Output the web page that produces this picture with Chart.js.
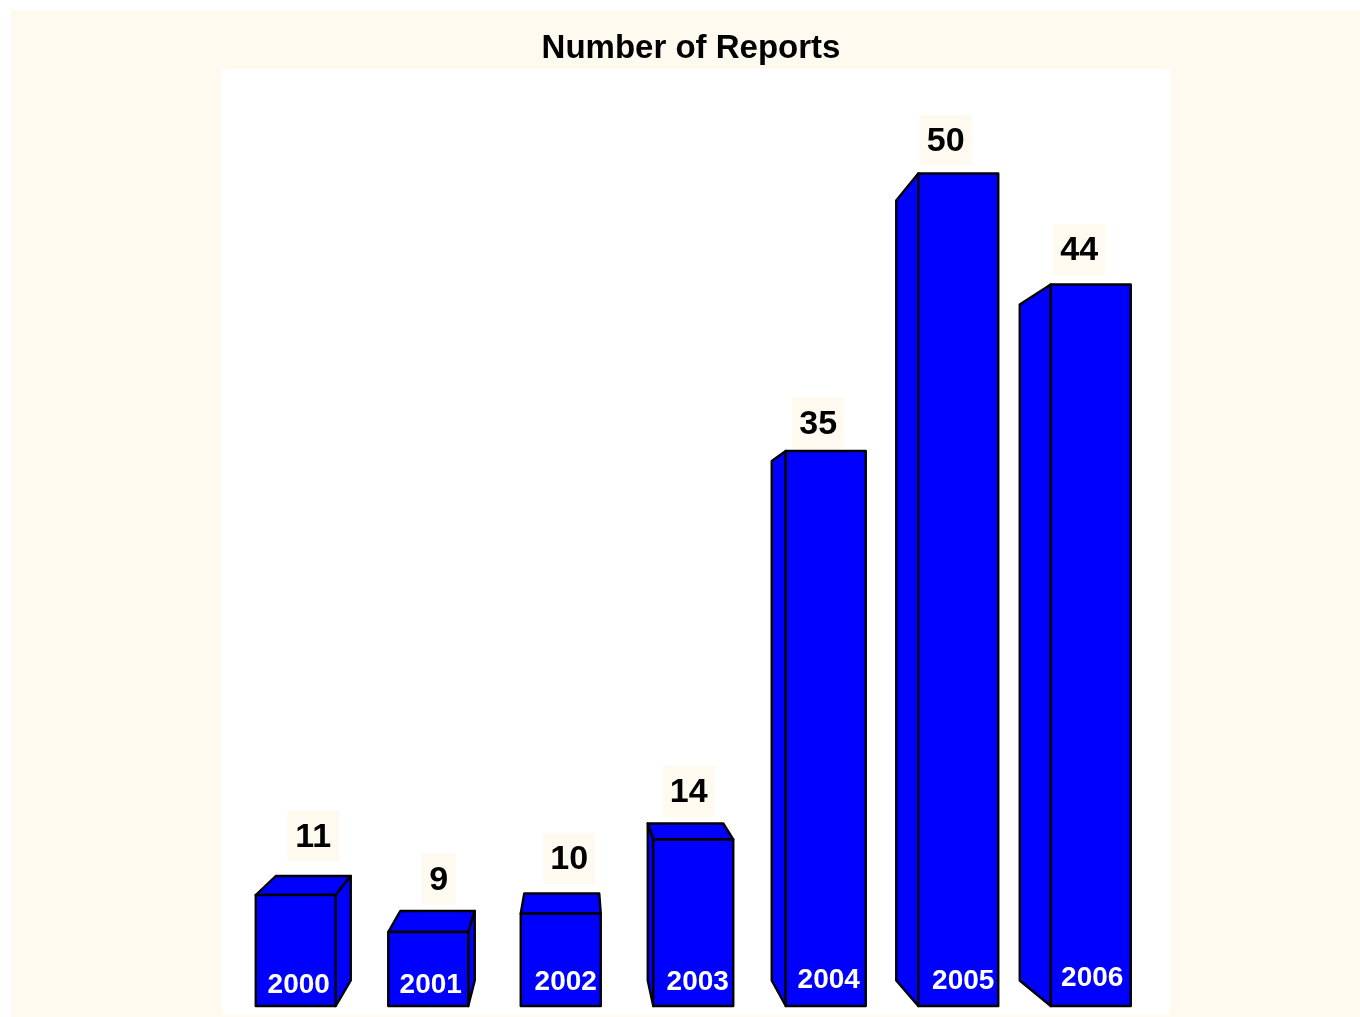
<!DOCTYPE html>
<html>
<head>
<meta charset="utf-8">
<style>html,body{margin:0;padding:0;background:#fff}canvas{display:block}</style>
<script src="https://cdn.jsdelivr.net/npm/chart.js@4"></script>
</head>
<body>
<div style="width:1360px;height:1017px"><canvas id="c" width="1360" height="1017"></canvas></div>
<script>
const years = ['2000','2001','2002','2003','2004','2005','2006'];
const reports = [11,9,10,14,35,50,44];
const chartTitle = 'Number of Reports';
const axisFloor = 5;
const axisCeil = 55;

// 3D look of each bar, in pixels relative to the front face
const backLeftDx  = [20,12,3.5,-5.5,-14,-22,-31];
const backRightDx = [15,6.5,-1.5,-10,0,0,0];
const backTopDy   = [-19,-21,-20,-16,10,27,20];
// label offsets from the top centre / bottom of the front face
const valueDx = [17.5,10.5,8.5,-4.5,-7.5,-12.5,-11.5];
const valueDy = [-59,-53,-55,-48,-28,-33,-35];
const yearDx  = [3,2.5,5,4.5,3,5,1.5];
const yearBaseDy = [-23,-23,-26,-26,-28.5,-27,-30];

const BEIGE = '#FFFAF0', BLUE = '#0000FF';

const scene = {
  id: 'scene',
  afterLayout(chart) {
    chart.titleBlock.left -= 4.5;
  },
  beforeDraw(chart) {
    const c = chart.ctx;
    c.save();
    c.fillStyle = BEIGE; c.fillRect(11, 10, 1349, 1007);
    c.fillStyle = '#FFFFFF'; c.fillRect(222, 69, 948, 946);
    c.restore();
  },
  beforeDatasetsDraw(chart) {
    const c = chart.ctx;
    const bars = chart.getDatasetMeta(0).data;
    c.save();
    c.fillStyle = BLUE; c.strokeStyle = '#000'; c.lineWidth = 2.4; c.lineJoin = 'round';
    const poly = pts => {
      c.beginPath();
      pts.forEach((p, i) => i ? c.lineTo(p[0], p[1]) : c.moveTo(p[0], p[1]));
      c.closePath(); c.fill(); c.stroke();
    };
    bars.forEach((b, i) => {
      const l = b.x - b.width / 2, r = b.x + b.width / 2, t = b.y, bot = b.base;
      const bl = l + backLeftDx[i], br = r + backRightDx[i], by = t + backTopDy[i];
      const backBottom = bot - 25.5;
      if (backTopDy[i] < 0) poly([[l, t], [bl, by], [br, by], [r, t]]);
      if (backRightDx[i] > 0) poly([[r, t], [br, by], [br, backBottom], [r, bot]]);
      if (backLeftDx[i] < 0) poly([[l, t], [bl, by], [bl, backBottom], [l, bot]]);
    });
    c.restore();
  },
  afterDatasetsDraw(chart) {
    const c = chart.ctx;
    const bars = chart.getDatasetMeta(0).data;
    c.save();
    c.strokeStyle = '#000'; c.lineWidth = 2.4;
    c.textAlign = 'center'; c.textBaseline = 'alphabetic'; c.lineJoin = 'round';
    bars.forEach((b, i) => {
      const l = b.x - b.width / 2;
      c.strokeRect(l, b.y, b.width, b.base - b.y);
      const vx = b.x + valueDx[i], vy = b.y + valueDy[i];
      const text = String(reports[i]);
      const boxW = text.length > 1 ? 52 : 34;
      c.fillStyle = BEIGE;
      c.fillRect(vx - boxW / 2, vy - 25.5, boxW, 51);
      c.fillStyle = '#000';
      c.font = 'bold 34px "Liberation Sans"';
      c.fillText(text, vx, vy + 10.5);
      c.fillStyle = '#FFF';
      c.font = 'bold 28px "Liberation Sans"';
      c.fillText(years[i], b.x + yearDx[i], b.base + yearBaseDy[i] + 10);
    });
    c.restore();
  }
};

new Chart(document.getElementById('c'), {
  type: 'bar',
  data: {
    labels: years,
    datasets: [{ data: reports, base: axisFloor, backgroundColor: BLUE, borderWidth: 0, barThickness: 80 }]
  },
  options: {
    responsive: false,
    animation: false,
    devicePixelRatio: 1,
    layout: { padding: { left: 229.5, right: 203, top: 29, bottom: 11 } },
    plugins: {
      legend: { display: false },
      tooltip: { enabled: false },
      title: {
        display: true,
        text: chartTitle,
        color: '#000',
        font: { family: '"Liberation Sans"', size: 33, weight: 'bold', lineHeight: 1.2 },
        padding: { top: 0, bottom: 12.4 }
      }
    },
    scales: {
      x: { display: false, offset: true },
      y: { display: false, min: axisFloor, max: axisCeil }
    }
  },
  plugins: [scene]
});
</script>
</body>
</html>
